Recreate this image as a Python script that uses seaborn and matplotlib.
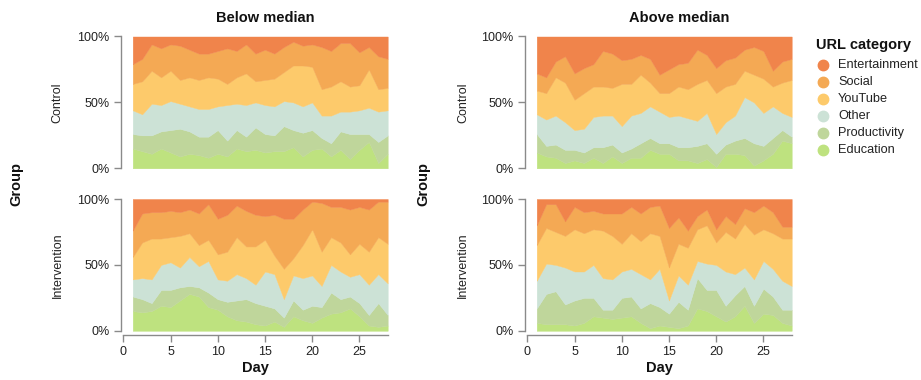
import matplotlib
matplotlib.use("Agg")
import matplotlib.pyplot as plt
from matplotlib.lines import Line2D
from matplotlib.ticker import PercentFormatter
import pandas as pd
import seaborn as sns

# ---------------------------------------------------------------------------
# Daily share (%) of visited URLs by category, days 1-28
# ---------------------------------------------------------------------------
days = list(range(1, 29))
categories = ["Entertainment", "Social", "YouTube", "Other", "Productivity", "Education"]
colors = ["#f0844b", "#f4a954", "#fdca6b", "#cce2d6", "#bfd69b", "#bee27f"]
groups = ["Control", "Intervention"]
medians = ["Below median", "Above median"]

# Control, below median
ctrl_below_education = [15, 13, 11, 15, 12, 9, 11, 10, 8, 11, 9, 15, 13, 14, 12, 13, 13, 16, 9, 14, 15, 9, 14, 7, 14, 20, 4, 11]
ctrl_below_productivity = [11, 12, 14, 13, 17, 21, 17, 14, 16, 18, 12, 14, 11, 17, 14, 12, 19, 13, 18, 15, 8, 10, 14, 19, 12, 6, 16, 14]
ctrl_below_other = [18, 16, 24, 20, 22, 19, 19, 21, 21, 18, 27, 20, 24, 19, 22, 22, 19, 21, 20, 21, 17, 21, 15, 17, 18, 20, 23, 19]
ctrl_below_youtube = [20, 25, 25, 21, 23, 18, 22, 22, 24, 21, 16, 20, 24, 16, 19, 21, 22, 28, 31, 27, 20, 22, 23, 19, 19, 29, 17, 17]
ctrl_below_social = [15, 17, 20, 22, 20, 26, 21, 20, 18, 21, 27, 20, 22, 21, 23, 19, 19, 18, 15, 17, 32, 27, 29, 33, 25, 17, 25, 22]
ctrl_below_entertainment = [21, 17, 6, 9, 6, 7, 10, 13, 13, 11, 9, 11, 6, 13, 10, 13, 8, 4, 7, 6, 8, 11, 5, 5, 12, 8, 15, 17]

# Control, above median
ctrl_above_education = [12, 9, 8, 4, 6, 4, 8, 4, 9, 4, 8, 8, 14, 11, 11, 6, 6, 4, 7, 1, 11, 11, 10, 2, 6, 11, 21, 19]
ctrl_above_productivity = [14, 8, 10, 10, 8, 8, 8, 12, 9, 8, 7, 11, 9, 8, 8, 10, 10, 13, 12, 10, 7, 10, 13, 17, 11, 12, 8, 5]
ctrl_above_other = [15, 20, 22, 21, 15, 18, 23, 24, 22, 20, 25, 23, 24, 24, 20, 24, 22, 19, 23, 15, 17, 19, 31, 31, 25, 24, 13, 15]
ctrl_above_youtube = [18, 20, 29, 30, 23, 27, 23, 22, 21, 32, 24, 29, 18, 14, 18, 22, 22, 28, 25, 31, 27, 24, 20, 21, 26, 15, 23, 28]
ctrl_above_social = [13, 12, 12, 20, 20, 19, 17, 27, 26, 18, 19, 15, 18, 14, 18, 17, 20, 26, 19, 19, 20, 20, 16, 21, 21, 12, 16, 16]
ctrl_above_entertainment = [28, 31, 19, 15, 28, 24, 21, 11, 13, 18, 17, 14, 17, 29, 25, 21, 20, 10, 14, 24, 18, 16, 10, 8, 11, 26, 19, 17]

# Intervention, below median
intv_below_education = [15, 14, 15, 19, 18, 23, 28, 26, 18, 16, 11, 8, 7, 5, 4, 7, 3, 11, 8, 6, 10, 13, 14, 17, 11, 4, 3, 4]
intv_below_productivity = [11, 10, 6, 12, 13, 10, 6, 7, 11, 8, 11, 15, 17, 16, 15, 10, 7, 12, 8, 13, 8, 16, 10, 9, 10, 8, 18, 8]
intv_below_other = [13, 16, 18, 19, 21, 15, 22, 16, 24, 15, 16, 20, 16, 14, 26, 26, 14, 19, 24, 23, 16, 21, 21, 15, 22, 23, 22, 24]
intv_below_youtube = [17, 27, 31, 20, 19, 24, 18, 16, 16, 19, 22, 28, 24, 29, 24, 14, 23, 13, 25, 35, 26, 21, 22, 17, 23, 25, 28, 30]
intv_below_social = [20, 22, 20, 20, 20, 18, 18, 24, 27, 27, 28, 24, 27, 24, 18, 31, 38, 30, 27, 21, 37, 23, 27, 34, 28, 32, 27, 32]
intv_below_entertainment = [24, 11, 10, 10, 9, 10, 8, 11, 4, 15, 12, 5, 9, 12, 13, 12, 15, 15, 8, 2, 3, 6, 6, 8, 6, 8, 2, 2]

# Intervention, above median
intv_above_education = [6, 5, 5, 5, 4, 6, 11, 10, 9, 10, 11, 6, 2, 4, 3, 2, 4, 17, 15, 11, 7, 11, 19, 6, 13, 12, 6, 4]
intv_above_productivity = [11, 23, 25, 15, 19, 19, 14, 6, 7, 15, 15, 11, 19, 14, 10, 20, 12, 23, 16, 20, 12, 16, 15, 13, 19, 14, 10, 12]
intv_above_other = [21, 23, 20, 28, 22, 20, 25, 24, 23, 20, 21, 26, 18, 29, 10, 20, 19, 13, 20, 19, 26, 16, 14, 20, 21, 21, 22, 18]
intv_above_youtube = [27, 27, 25, 24, 32, 29, 27, 36, 33, 21, 27, 25, 35, 25, 25, 24, 28, 24, 29, 17, 30, 27, 33, 34, 24, 27, 32, 36]
intv_above_social = [15, 18, 21, 11, 17, 16, 14, 13, 17, 23, 20, 21, 20, 23, 30, 20, 13, 10, 12, 10, 12, 11, 12, 17, 18, 16, 9, 9]
intv_above_entertainment = [20, 4, 4, 17, 6, 10, 9, 11, 11, 11, 6, 11, 6, 5, 22, 14, 24, 13, 8, 23, 13, 19, 7, 10, 5, 10, 21, 21]

panels = {
    ("Control", "Below median"): [ctrl_below_entertainment, ctrl_below_social, ctrl_below_youtube,
                                  ctrl_below_other, ctrl_below_productivity, ctrl_below_education],
    ("Control", "Above median"): [ctrl_above_entertainment, ctrl_above_social, ctrl_above_youtube,
                                  ctrl_above_other, ctrl_above_productivity, ctrl_above_education],
    ("Intervention", "Below median"): [intv_below_entertainment, intv_below_social, intv_below_youtube,
                                       intv_below_other, intv_below_productivity, intv_below_education],
    ("Intervention", "Above median"): [intv_above_entertainment, intv_above_social, intv_above_youtube,
                                       intv_above_other, intv_above_productivity, intv_above_education],
}

rows = []
for (group, median), series in panels.items():
    for cat, values in zip(categories, series):
        for d, v in zip(days, values):
            rows.append({"Group": group, "Median": median, "Category": cat, "Day": d, "Share": v})
df = pd.DataFrame(rows)

# ---------------------------------------------------------------------------
# Styling
# ---------------------------------------------------------------------------
sns.set_theme(style="white")
plt.rcParams["font.family"] = ["Liberation Sans", "DejaVu Sans"]
palette = dict(zip(categories, colors))

W, H = 921, 380
fig = plt.figure(figsize=(W / 100, H / 100), dpi=100)


def fx(px):
    return px / W


def fy(py):
    return 1 - py / H


col_left = {"Below median": 123.3, "Above median": 527.3}
row_top = {"Control": 36.5, "Intervention": 199.0}
panel_w, panel_h = 264.4, 131.8
axis_grey = "#8a8a8a"

stack_order = categories[::-1]  # Education at the bottom

for (group, median) in panels:
    x0, y0 = col_left[median], row_top[group]
    ax = fig.add_axes([fx(x0), fy(y0 + panel_h), panel_w / W, panel_h / H])
    sub = df[(df.Group == group) & (df.Median == median)]
    wide = sub.pivot(index="Day", columns="Category", values="Share")[stack_order]
    wide = wide.div(wide.sum(axis=1), axis=0)
    ax.stackplot(wide.index, [wide[c] for c in stack_order],
                 colors=[palette[c] for c in stack_order], linewidth=0.3,
                 edgecolor="face")
    ax.set_xlim(0, 28)
    ax.set_ylim(0, 1)
    ax.set_yticks([0, 0.5, 1])
    ax.yaxis.set_major_formatter(PercentFormatter(1.0, decimals=0))
    for s in ["top", "right"]:
        ax.spines[s].set_visible(False)
    ax.spines["left"].set_position(("outward", 2))
    ax.spines["left"].set_color(axis_grey)
    ax.spines["left"].set_linewidth(1)
    ax.tick_params(axis="y", left=True, length=5, width=1, color=axis_grey,
                   labelsize=9, labelcolor="#222222", pad=3)
    if group == "Intervention":
        ax.spines["bottom"].set_position(("outward", 3))
        ax.spines["bottom"].set_color(axis_grey)
        ax.spines["bottom"].set_linewidth(1)
        ax.set_xticks([0, 5, 10, 15, 20, 25])
        ax.tick_params(axis="x", bottom=True, length=5, width=1, color=axis_grey,
                       labelsize=9, labelcolor="#222222", pad=3)
        fig.text(fx(x0 + panel_w / 2), fy(368), "Day", ha="center", va="center",
                 fontsize=10.5, fontweight="bold", color="#111111")
    else:
        ax.spines["bottom"].set_visible(False)
        ax.set_xticks([])
    ax.set_xlabel("")
    ax.set_ylabel("")
    ax.grid(False)
    ax.set_facecolor("none")

# Column headers
fig.text(fx(265.5), fy(18), "Below median", ha="center", va="center",
         fontsize=10.5, fontweight="bold", color="#111111")
fig.text(fx(679), fy(18), "Above median", ha="center", va="center",
         fontsize=10.5, fontweight="bold", color="#111111")

# Row labels and the shared "Group" title for each column
for gx, rx in [(16, 57.5), (423, 463)]:
    fig.text(fx(gx), fy(184), "Group", rotation=90, ha="center", va="center",
             fontsize=10.5, fontweight="bold", color="#111111")
    for group in groups:
        fig.text(fx(rx), fy(row_top[group] + panel_h / 2), group, rotation=90,
                 ha="center", va="center", fontsize=9, color="#222222")

# Legend
fig.text(fx(816.5), fy(45), "URL category", ha="left", va="center",
         fontsize=10.5, fontweight="bold", color="#111111")
for i, (cat, col) in enumerate(zip(categories, colors)):
    yy = 64.5 + i * 17.1
    fig.add_artist(Line2D([fx(823)], [fy(yy)], marker="o", markersize=7.5,
                          color=col, linestyle="none", transform=fig.transFigure))
    fig.text(fx(838), fy(yy), cat, ha="left", va="center", fontsize=9.2,
             color="#222222")

fig.savefig("out.png", dpi=100)
